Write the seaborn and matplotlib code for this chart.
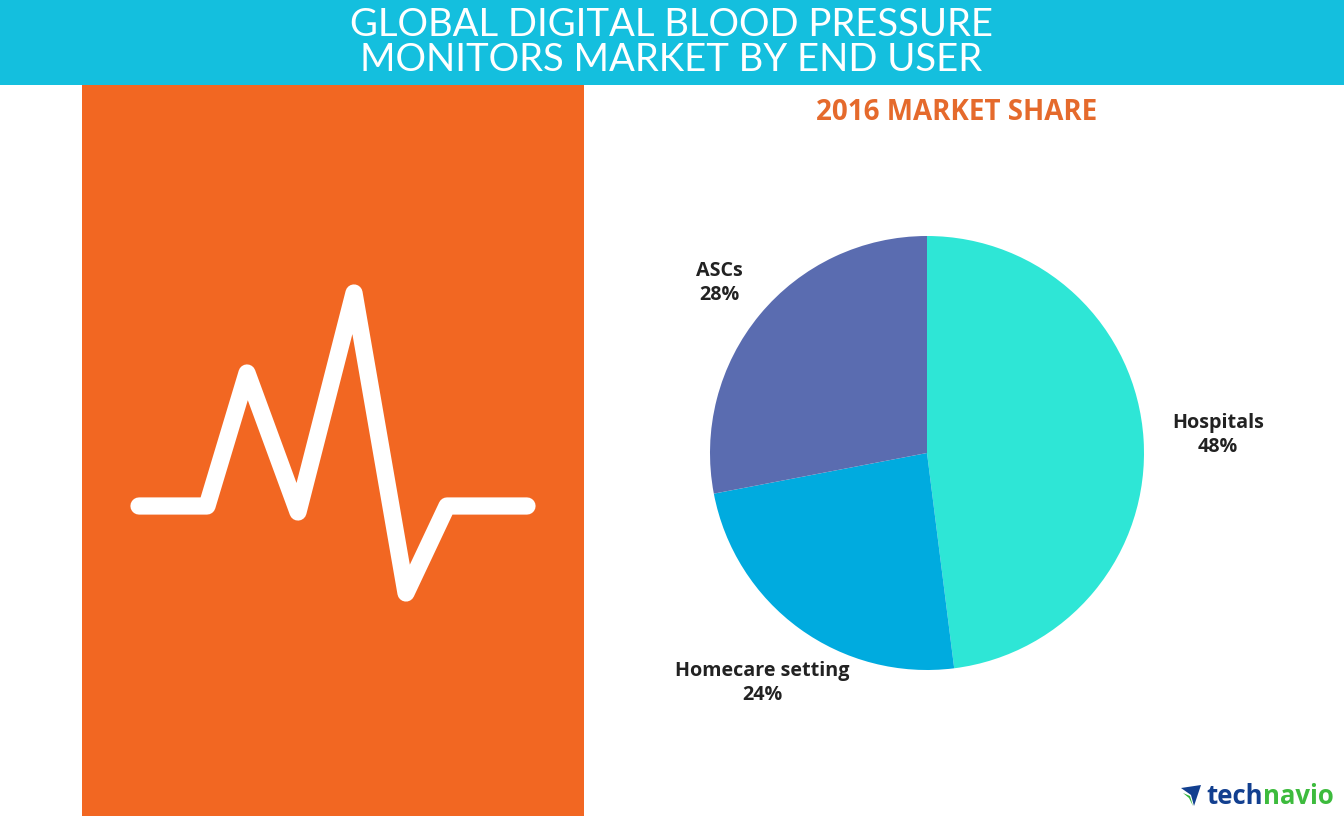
import matplotlib
matplotlib.use("Agg")
import matplotlib.pyplot as plt
from matplotlib.patches import Rectangle, Polygon
import seaborn as sns

categories = ["Hospitals", "Homecare setting", "ASCs"]
shares = [48, 24, 28]
title_lines = ["GLOBAL DIGITAL BLOOD PRESSURE", "MONITORS MARKET BY END USER"]
subtitle = "2016 MARKET SHARE"

pulse_x = [139, 207, 247, 298, 354, 406, 447, 527]
pulse_y = [506, 506, 373, 512, 293, 593, 506, 506]

sns.set_theme(style="white")
W, H = 1344, 816
palette = sns.color_palette(["#2EE6D6", "#00ABDF", "#5A6CB0"])

fig = plt.figure(figsize=(W / 100, H / 100), dpi=100, facecolor="white")

bg = fig.add_axes([0, 0, 1, 1])
bg.set_xlim(0, W)
bg.set_ylim(H, 0)
bg.axis("off")
bg.add_patch(Rectangle((82, 83), 502, 733, fc="#F26722", ec="none", zorder=1))
bg.add_patch(Rectangle((0, 0), W, 85, fc="#14BFDE", ec="none", zorder=2))
sns.lineplot(x=pulse_x, y=pulse_y, ax=bg, color="white", lw=12.4, sort=False,
             estimator=None, zorder=3, solid_capstyle="round", solid_joinstyle="round")
bg.set_xlim(0, W)
bg.set_ylim(H, 0)

for y, line in zip([25, 60], title_lines):
    bg.text(671, y, line, ha="center", va="center", color="white", family="Lato",
            fontsize=27.5, zorder=4, fontstretch="normal")
bg.text(957, 113, subtitle, ha="center", va="center", color="#E56A2C",
        family="Open Sans", weight="bold", fontsize=20, zorder=4)

R = 217
cx, cy = 927, 453
ax = fig.add_axes([(cx - R) / W, 1 - (cy + R) / H, 2 * R / W, 2 * R / H])
ax.pie(shares, colors=palette, startangle=90, counterclock=False, radius=1,
       wedgeprops={"linewidth": 0})
ax.set_xlim(-1, 1)
ax.set_ylim(-1, 1)
ax.set_aspect("equal")

label_pos = [(1218, 435), (762, 683), (719, 283)]
for (lx, ly), cat, val in zip(label_pos, categories, shares):
    bg.text(lx, ly, f"{cat}\n{val}%", ha="center", va="center", color="#222222",
            family="Open Sans", weight="bold", fontsize=14.2, linespacing=1.32, zorder=4)

# brand mark
bg.add_patch(Polygon([(1181, 788), (1201, 785), (1194, 806), (1191, 795)],
                     fc="#123F8F", ec="none", zorder=4))
bg.add_patch(Polygon([(1183, 793), (1190, 796), (1193, 806), (1189, 798)],
                     fc="#35B53A", ec="none", zorder=5))
t1 = bg.text(1206, 796, "tech", ha="left", va="center", color="#123F8F",
             family="Open Sans", weight="bold", fontsize=18.5, zorder=4)
fig.canvas.draw()
bb = t1.get_window_extent()
bg.text(bb.x1 + 0.5, 796, "navio", ha="left", va="center", color="#3DBB3D",
        family="Open Sans", weight="bold", fontsize=18.5, zorder=4)

fig.savefig("out.png", dpi=100, facecolor="white")
